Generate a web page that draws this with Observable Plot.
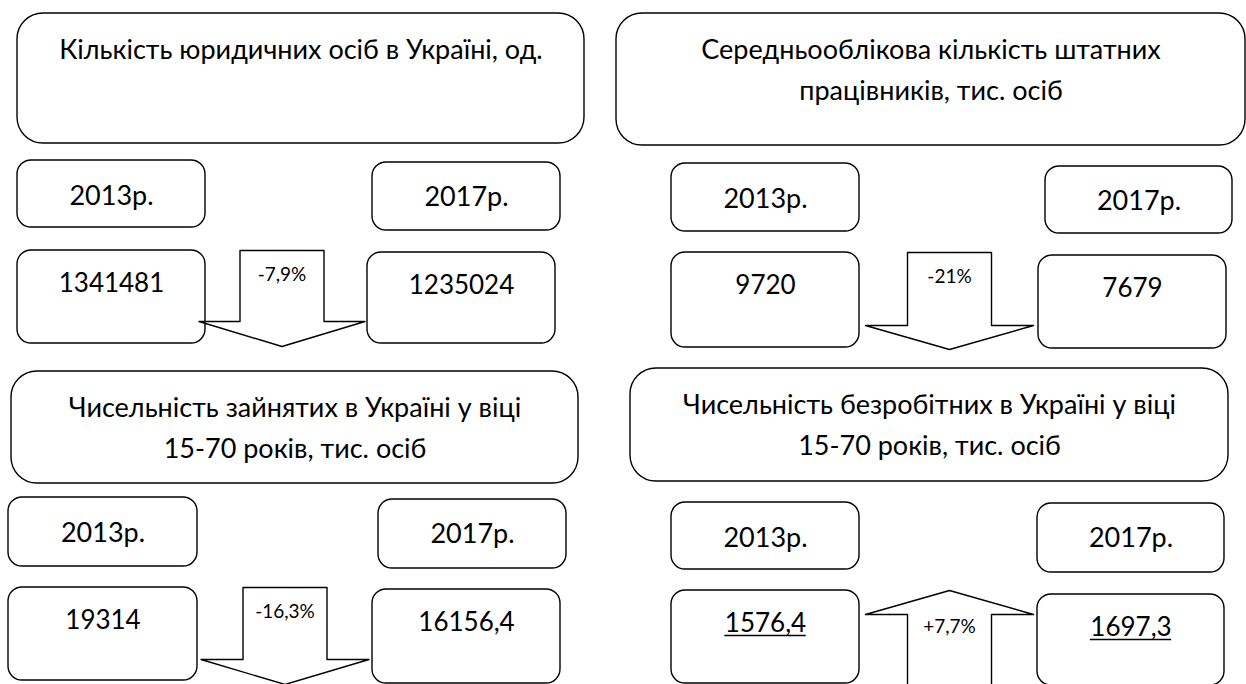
<!DOCTYPE html>
<html><head><meta charset="utf-8">
<script src="https://cdn.jsdelivr.net/npm/d3@7"></script>
<script src="https://cdn.jsdelivr.net/npm/@observablehq/plot@0.6"></script>
<style>body{margin:0;background:#fff;overflow:hidden}</style>
</head><body><div id="chart"></div>
<script>
// ---- data ----
const titles = [
  "Кількість юридичних осіб в Україні, од.",
  "Середньооблікова кількість штатних\nпрацівників, тис. осіб",
  "Чисельність зайнятих в Україні у віці\n15-70 років, тис. осіб",
  "Чисельність безробітних в Україні у віці\n15-70 років, тис. осіб"
];
const years = ["2013р.", "2017р."];
const values2013 = ["1341481", "9720", "19314", "1576,4"];
const values2017 = ["1235024", "7679", "16156,4", "1697,3"];
const changes = ["-7,9%", "-21%", "-16,3%", "+7,7%"];
const changeSign = [-1, -1, -1, 1];

// ---- layout (positions only) ----
const layout = [
  {title:[17,584,13,143], y13:[17,205,160,227], y17:[372,560,162,230], v13:[17,205,250,343], v17:[367,555,252,343], arrow:{cx:281.5, base:250, shoulder:321, tip:346, hw:42, hh:83}},
  {title:[616,1245,13,145], y13:[671,859,163,231], y17:[1045,1232,166,233], v13:[671,859,252,347], v17:[1038,1226,255,348], arrow:{cx:949, base:252, shoulder:325, tip:349, hw:42, hh:84}},
  {title:[11,578,371,483], y13:[8,197,497,566], y17:[378,566,499,568], v13:[8,197,587,680], v17:[372,560,589,683], arrow:{cx:284.5, base:587, shoulder:659, tip:684, hw:42, hh:84}},
  {title:[630,1228,368,481], y13:[671,859,502,569], y17:[1037,1224,503,572], v13:[671,859,590,683], v17:[1037,1224,594,685], arrow:{cx:949, base:700, shoulder:614, tip:590, hw:42, hh:84}}
];
const underlinedPanels = [3];
const FONT = "Lato";
const sz = {title:27, year:27, value:26, change:19};

// ---- build mark data ----
const rect = r => ({x1:r[0], x2:r[1], y1:r[2], y2:r[3]});
const titleBoxes = layout.map(L => rect(L.title));
const smallBoxes = layout.flatMap(L => [rect(L.y13), rect(L.y17), rect(L.v13), rect(L.v17)]);

const arrowPts = layout.flatMap((L, i) => {
  const a = L.arrow;
  return [
    [a.cx - a.hw, a.base], [a.cx + a.hw, a.base], [a.cx + a.hw, a.shoulder],
    [a.cx + a.hh, a.shoulder], [a.cx, a.tip], [a.cx - a.hh, a.shoulder],
    [a.cx - a.hw, a.shoulder]
  ].map(([x, y]) => ({id: i, x, y}));
});

const titleText = titles.flatMap((t, i) => {
  const r = layout[i].title;
  return t.split("\n").map((line, k) => ({x:(r[0]+r[1])/2, y:r[2] + 45 + k*41, text:line}));
});
const yearText = layout.flatMap(L => [
  {x:(L.y13[0]+L.y13[1])/2, y:L.y13[2] + 44, text:years[0]},
  {x:(L.y17[0]+L.y17[1])/2, y:L.y17[2] + 43, text:years[1]}
]);
const valueText = layout.flatMap((L, i) => [
  {x:(L.v13[0]+L.v13[1])/2, y:L.v13[2] + 41, text:values2013[i], u:underlinedPanels.includes(i)},
  {x:(L.v17[0]+L.v17[1])/2, y:L.v17[2] + 41, text:values2017[i], u:underlinedPanels.includes(i)}
]);
const changeText = layout.map((L, i) => ({
  x:L.arrow.cx,
  y: changeSign[i] < 0 ? L.arrow.base + 30 : L.arrow.shoulder + 18,
  text: changes[i]
}));

// underline segments measured from the text width
const ctx = document.createElement("canvas").getContext("2d");
ctx.font = `${sz.value}px ${FONT}`;
const underlines = valueText.filter(d => d.u).map(d => {
  const w = ctx.measureText(d.text).width;
  return {x1:d.x - w/2, x2:d.x + w/2, y:d.y + 4};
});

const txt = (data, size) => Plot.text(data, {x:"x", y:"y", text:"text", fontSize:size, fontFamily:FONT, fill:"#000", textAnchor:"middle", lineAnchor:"bottom"});

const plot = Plot.plot({
  width:1246, height:684, margin:0,
  style:{background:"#fff", fontFamily:FONT},
  x:{type:"linear", domain:[0,1246], range:[0,1246], axis:null},
  y:{type:"linear", domain:[0,684], range:[0,684], axis:null},
  marks:[
    Plot.line(arrowPts, {x:"x", y:"y", z:"id", curve:"linear-closed", stroke:"#000", strokeWidth:1.4, fill:"#fff"}),
    Plot.rect(titleBoxes, {x1:"x1", x2:"x2", y1:"y1", y2:"y2", rx:26, fill:"none", stroke:"#000", strokeWidth:1.4}),
    Plot.rect(smallBoxes, {x1:"x1", x2:"x2", y1:"y1", y2:"y2", rx:14, fill:"none", stroke:"#000", strokeWidth:1.4}),
    txt(titleText, sz.title),
    txt(yearText, sz.year),
    txt(valueText, sz.value),
    Plot.ruleY(underlines, {x1:"x1", x2:"x2", y:"y", stroke:"#000", strokeWidth:1.5}),
    txt(changeText, sz.change)
  ]
});
document.getElementById("chart").appendChild(plot);
</script></body></html>
